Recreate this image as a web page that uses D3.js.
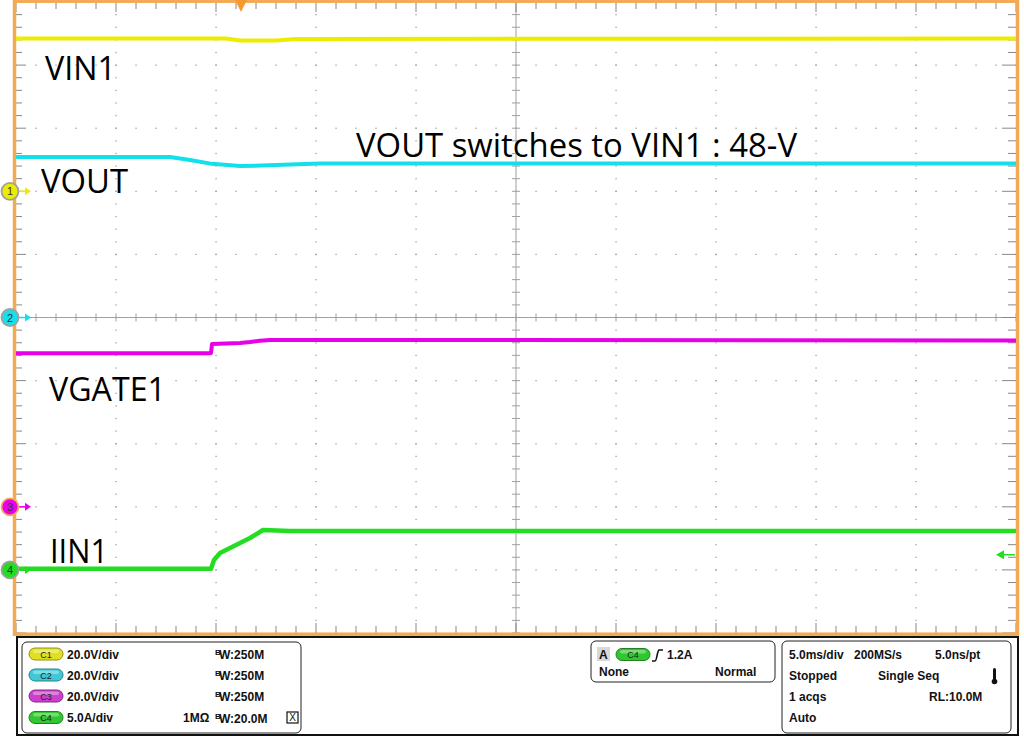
<!DOCTYPE html>
<html>
<head>
<meta charset="utf-8">
<script src="https://cdn.jsdelivr.net/npm/d3@7"></script>
<style>
  body { margin: 0; background: #fff; }
  svg { display: block; }
</style>
</head>
<body>
<script>
// scope capture: 4 channels, time in ms from left edge of screen

const timeVin1 = [0, 10.5, 11.2, 13, 14, 50];
const valVin1  = [48.4, 48.4, 47.8, 47.8, 48.3, 48.4];

const timeVout = [0, 7.7, 8.7, 9.8, 11.2, 13, 15.2, 50];
const valVout  = [50.9, 50.9, 49.9, 48.7, 48.0, 48.3, 48.8, 48.8];

const timeVgate = [0, 9.75, 9.8, 11.2, 11.7, 12.2, 12.7, 50];
const valVgate  = [48.7, 48.7, 51.6, 51.9, 52.2, 52.6, 52.9, 52.7];

const timeIin = [0, 9.75, 9.9, 10.2, 11.7, 12.35, 13.7, 50];
const valIin  = [0.1, 0.1, 0.78, 1.34, 2.53, 3.16, 3.08, 3.08];

const chNames     = ["C1", "C2", "C3", "C4"];
const chLabels    = ["VIN1", "VOUT", "VGATE1", "IIN1"];
const chPerDiv    = [20, 20, 20, 5];
const chPosition  = [2, 0, -3, -4];
const chColors    = ["#ecec00", "#14e0ec", "#e800e8", "#22dd22"];
const chPillColors = ["#e0e020", "#40c8d8", "#cc40cc", "#30c830"];

const vertReadout = ["20.0V/div", "20.0V/div", "20.0V/div", "5.0A/div"];
const bwReadout   = ["W:250M", "W:250M", "W:250M", "W:20.0M"];

const timePerDiv = 5;      // ms/div
const triggerTime = 11.25; // ms
const triggerLevel = 1.2;  // A on C4

const annotation = "VOUT switches to VIN1 : 48-V";

let svg = null;
let x, yDiv = null;

const W = 1024, H = 736;
const plot = {left: 16, right: 1016, top: 2, bottom: 633};
const orange = "#f2aa55";

appendSvg("body");
setupScales();
drawGraticule();
drawTraces();
drawMarkers();
drawLabels();
drawReadout();

function appendSvg(el) {
  svg = d3.select(el).append("svg")
    .attr("width", W)
    .attr("height", H);
  svg.append("rect").attr("width", W).attr("height", H).attr("fill", "#fff");
}

function setupScales() {
  x = d3.scaleLinear().domain([0, 10 * timePerDiv]).range([plot.left, plot.right]);
  yDiv = d3.scaleLinear().domain([-5, 5]).range([plot.bottom, plot.top]);
}

function drawGraticule() {
  const g = svg.append("g");
  const minorX = d3.range(0, 50.001, 1);
  const minorY = d3.range(-5, 5.001, 0.2);
  const majorX = d3.range(5, 50, 5).filter(d => d !== 25);
  const majorY = d3.range(-4, 5, 1).filter(d => d !== 0);

  // dotted grid lines
  majorX.forEach(t => {
    g.selectAll(null).data(minorY).enter().append("rect")
      .attr("x", x(t) - 0.6).attr("y", d => yDiv(d) - 0.6)
      .attr("width", 1.3).attr("height", 1.3).attr("fill", "#a0a0a0");
  });
  majorY.forEach(v => {
    g.selectAll(null).data(minorX).enter().append("rect")
      .attr("x", d => x(d) - 0.6).attr("y", yDiv(v) - 0.6)
      .attr("width", 1.3).attr("height", 1.3).attr("fill", "#a0a0a0");
  });

  // center crosshair
  g.append("line").attr("x1", x(25)).attr("x2", x(25))
    .attr("y1", plot.top).attr("y2", plot.bottom)
    .attr("stroke", "#a0a0a0").attr("stroke-width", 1);
  g.append("line").attr("x1", plot.left).attr("x2", plot.right)
    .attr("y1", yDiv(0)).attr("y2", yDiv(0))
    .attr("stroke", "#a0a0a0").attr("stroke-width", 1);
  g.selectAll(null).data(minorX).enter().append("line")
    .attr("x1", d => x(d)).attr("x2", d => x(d))
    .attr("y1", yDiv(0) - 4).attr("y2", yDiv(0) + 4)
    .attr("stroke", "#a0a0a0");
  g.selectAll(null).data(minorY).enter().append("line")
    .attr("y1", d => yDiv(d)).attr("y2", d => yDiv(d))
    .attr("x1", x(25) - 4).attr("x2", x(25) + 4)
    .attr("stroke", "#a0a0a0");

  // edge ticks
  const isMajorY = d => Math.abs(d - Math.round(d)) < 1e-6;
  const isMajorX = d => d % 5 === 0;
  g.selectAll(null).data(minorY).enter().append("line")
    .attr("x1", plot.left).attr("x2", d => plot.left + (isMajorY(d) ? 10 : 6))
    .attr("y1", d => yDiv(d)).attr("y2", d => yDiv(d))
    .attr("stroke", "#888");
  g.selectAll(null).data(minorY).enter().append("line")
    .attr("x1", plot.right).attr("x2", d => plot.right - (isMajorY(d) ? 14 : 8))
    .attr("y1", d => yDiv(d)).attr("y2", d => yDiv(d))
    .attr("stroke", "#888");
  g.selectAll(null).data(minorX).enter().append("line")
    .attr("x1", d => x(d)).attr("x2", d => x(d))
    .attr("y1", plot.top).attr("y2", d => plot.top + (isMajorX(d) ? 10 : 7))
    .attr("stroke", "#888");
  g.selectAll(null).data(minorX).enter().append("line")
    .attr("x1", d => x(d)).attr("x2", d => x(d))
    .attr("y1", plot.bottom).attr("y2", d => plot.bottom - (isMajorX(d) ? 10 : 7))
    .attr("stroke", "#888");

  // orange frame
  g.append("rect")
    .attr("x", 14.5).attr("y", 1.2)
    .attr("width", 1003).attr("height", 633)
    .attr("fill", "none").attr("stroke", orange).attr("stroke-width", 3.5);
}

function drawTraces() {
  const series = [
    [timeVin1, valVin1],
    [timeVout, valVout],
    [timeVgate, valVgate],
    [timeIin, valIin]
  ];
  series.forEach((s, i) => {
    const pts = s[0].map((t, k) => [t, s[1][k]]);
    const line = d3.line()
      .x(d => x(d[0]))
      .y(d => yDiv(chPosition[i] + d[1] / chPerDiv[i]));
    svg.append("path")
      .datum(pts)
      .attr("d", line)
      .attr("fill", "none")
      .attr("stroke", chColors[i])
      .attr("stroke-width", i === 3 ? 4.5 : 4)
      .attr("stroke-linejoin", "round");
  });
}

function drawMarkers() {
  // channel ground markers on the left
  chNames.forEach((c, i) => {
    const yy = yDiv(chPosition[i]);
    const g = svg.append("g");
    g.append("line").attr("x1", 17).attr("x2", 27)
      .attr("y1", yy).attr("y2", yy)
      .attr("stroke", chColors[i]).attr("stroke-width", 1.5);
    g.append("path")
      .attr("d", `M${25},${yy - 4}L${31},${yy}L${25},${yy + 4}Z`)
      .attr("fill", chColors[i]);
    g.append("circle").attr("cx", 10).attr("cy", yy).attr("r", 8.5)
      .attr("fill", chColors[i])
      .attr("stroke", i === 2 ? orange : "#a0a0a0").attr("stroke-width", 1.8);
    g.append("text").attr("x", 10).attr("y", yy + 4)
      .attr("text-anchor", "middle")
      .attr("font-family", "Liberation Sans, Arial, sans-serif")
      .attr("font-size", 11).attr("fill", "#333")
      .text(i + 1);
  });

  // trigger level on the right
  const ty = yDiv(chPosition[3] + triggerLevel / chPerDiv[3]);
  svg.append("line").attr("x1", 1002).attr("x2", 1015)
    .attr("y1", ty).attr("y2", ty)
    .attr("stroke", chColors[3]).attr("stroke-width", 1.5);
  svg.append("path")
    .attr("d", `M${996},${ty}L${1004},${ty - 4.5}L${1004},${ty + 4.5}Z`)
    .attr("fill", chColors[3]);

  // trigger position on top
  const tx = x(triggerTime);
  svg.append("path")
    .attr("d", `M${tx - 6},${0}L${tx + 6},${0}L${tx},${12}Z`)
    .attr("fill", "#f59a30");
}

function drawLabels() {
  const pos = [
    {x: 45, y: 80, w: 71},
    {x: 41, y: 193, w: 87},
    {x: 49, y: 401, w: 117},
    {x: 50, y: 563, w: 58}
  ];
  chLabels.forEach((l, i) => {
    svg.append("text")
      .attr("x", pos[i].x).attr("y", pos[i].y)
      .attr("font-family", "Open Sans, Noto Sans, sans-serif")
      .attr("font-size", 33)
      .attr("textLength", pos[i].w)
      .attr("lengthAdjust", "spacingAndGlyphs")
      .attr("fill", "#000")
      .text(l);
  });
  svg.append("text")
    .attr("x", 356).attr("y", 157)
    .attr("font-family", "Open Sans, Noto Sans, sans-serif")
    .attr("font-size", 33)
    .attr("textLength", 441)
    .attr("lengthAdjust", "spacingAndGlyphs")
    .attr("fill", "#000")
    .text(annotation);
}

function pill(g, px, py, color, label) {
  g.append("rect").attr("x", px).attr("y", py).attr("width", 34).attr("height", 12)
    .attr("rx", 6).attr("fill", color)
    .attr("stroke", d3.color(color).darker(1.2)).attr("stroke-width", 1);
  g.append("rect").attr("x", px + 4).attr("y", py + 1.5).attr("width", 26).attr("height", 3.5)
    .attr("rx", 1.8).attr("fill", "#fff").attr("opacity", 0.35);
  g.append("text").attr("x", px + 17).attr("y", py + 9.5)
    .attr("text-anchor", "middle")
    .attr("font-family", "Liberation Sans, Arial, sans-serif")
    .attr("font-weight", "normal")
    .attr("font-size", 9).attr("fill", "#222")
    .text(label);
}

function drawReadout() {
  const g = svg.append("g")
    .attr("font-family", "Liberation Sans, Arial, sans-serif")
    .attr("font-weight", "bold")
    .attr("font-size", 12)
    .attr("fill", "#111");

  // outer panel frame
  g.append("rect").attr("x", 17).attr("y", 637).attr("width", 1001).attr("height", 98)
    .attr("fill", "#fff").attr("stroke", "#111").attr("stroke-width", 2);

  const box = (bx, by, bw, bh) => g.append("rect")
    .attr("x", bx).attr("y", by).attr("width", bw).attr("height", bh)
    .attr("rx", 5).attr("fill", "#fff").attr("stroke", "#222").attr("stroke-width", 1);
  box(22, 642, 279, 91);
  box(591, 641, 184, 41);
  box(782, 641, 229, 92);

  const rows = [654, 675, 696, 717.5];
  chNames.forEach((c, i) => {
    pill(g, 29, rows[i] - 6, chPillColors[i], c);
    g.append("text").attr("x", 67).attr("y", rows[i] + 4.5).text(vertReadout[i]);
    g.append("text").attr("x", 215).attr("y", rows[i] + 1).attr("font-size", 8).text("B");
    g.append("text").attr("x", 219).attr("y", rows[i] + 5).text(bwReadout[i]);
  });
  g.append("text").attr("x", 183).attr("y", rows[3] + 4.5).text("1MΩ");
  g.append("rect").attr("x", 287).attr("y", rows[3] - 5.5).attr("width", 11).attr("height", 11)
    .attr("fill", "#fff").attr("stroke", "#111").attr("stroke-width", 1.2);
  g.append("text").attr("x", 292.5).attr("y", rows[3] + 3.5).attr("text-anchor", "middle")
    .attr("font-size", 10).attr("font-weight", "normal").text("X");

  // trigger box
  g.append("rect").attr("x", 597).attr("y", 647).attr("width", 13).attr("height", 14).attr("fill", "#d8d8d8");
  g.append("text").attr("x", 599).attr("y", 658.5).text("A");
  pill(g, 616, 648.5, chPillColors[3], "C4");
  g.append("path").attr("d", "M652,661 L655,661 C657,661 657,651 659,650 L663,650")
    .attr("fill", "none").attr("stroke", "#111").attr("stroke-width", 1.6);
  g.append("text").attr("x", 667).attr("y", 658.5).text("1.2A");
  g.append("text").attr("x", 599).attr("y", 675.5).text("None");
  g.append("text").attr("x", 715).attr("y", 675.5).text("Normal");

  // acquisition box
  g.append("text").attr("x", 789).attr("y", 659).text("5.0ms/div");
  g.append("text").attr("x", 854).attr("y", 659).text("200MS/s");
  g.append("text").attr("x", 935).attr("y", 659).text("5.0ns/pt");
  g.append("text").attr("x", 789).attr("y", 680).text("Stopped");
  g.append("text").attr("x", 878).attr("y", 680).text("Single Seq");
  g.append("text").attr("x", 789).attr("y", 701).text("1 acqs");
  g.append("text").attr("x", 929).attr("y", 701).text("RL:10.0M");
  g.append("text").attr("x", 789).attr("y", 722).text("Auto");
  // thermometer icon
  g.append("rect").attr("x", 993).attr("y", 668).attr("width", 3).attr("height", 12).attr("rx", 1.5).attr("fill", "#111");
  g.append("circle").attr("cx", 994.5).attr("cy", 681.5).attr("r", 2.8).attr("fill", "#111");
}
</script>
</body>
</html>
